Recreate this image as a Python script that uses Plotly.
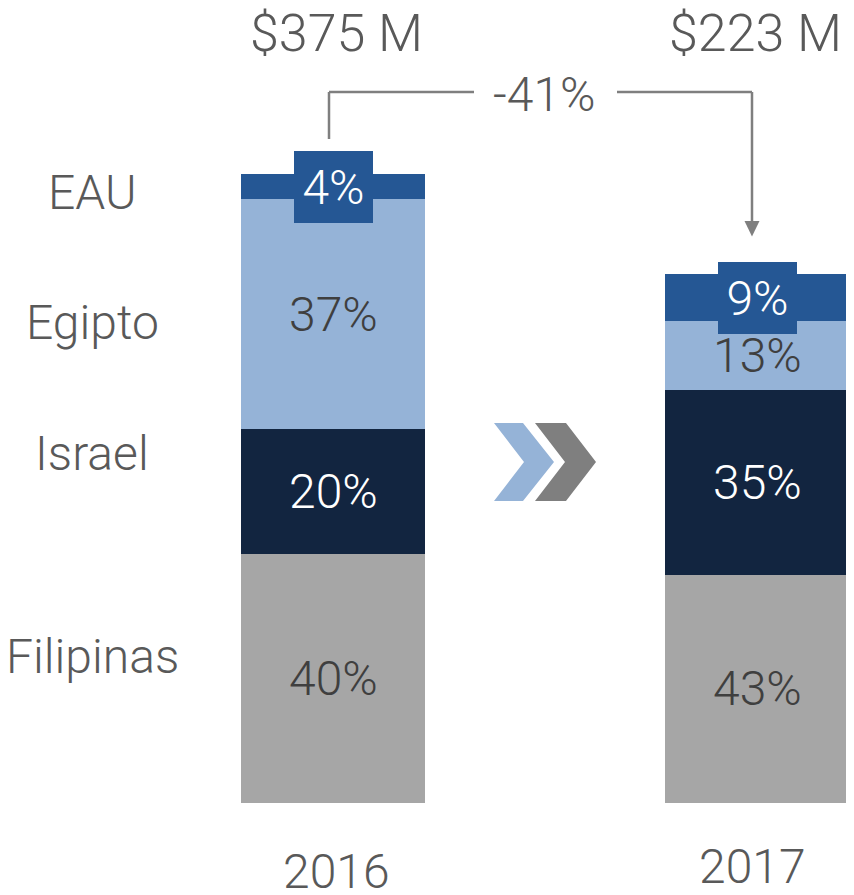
import plotly.graph_objects as go

# ---- data ----
years = ["2016", "2017"]
countries = ["Filipinas", "Israel", "Egipto", "EAU"]
share_2016 = [40, 20, 37, 4]
share_2017 = [43, 35, 13, 9]
totals = ["$375 M", "$223 M"]
change_label = "-41%"

colors = {"Filipinas": "#A6A6A6", "Israel": "#122540", "Egipto": "#95B3D7", "EAU": "#255794"}
text_colors = {"Filipinas": "#3F3F3F", "Israel": "#FFFFFF", "Egipto": "#3F3F3F", "EAU": "#FFFFFF"}
bar_height_scale = [1.0, 0.85]   # visual height of each column

OFF = 8                      # default page margin of the html body
W, H = 854 - OFF, 895 - OFF
FONT = "Roboto"
GRAY = "#595959"
LINE = "#7F7F7F"


def px(x):
    return (x - OFF) / W


def py(y):
    return 1 - (y - OFF) / H


UNIT = 6.22                  # pixels per percentage point
BASE = 92.5                  # bar baseline, pixels above figure bottom

fig = go.Figure()
shares = {c: [share_2016[i], share_2017[i]] for i, c in enumerate(countries)}
for c in countries:
    fig.add_trace(go.Bar(
        x=years,
        y=[shares[c][j] * bar_height_scale[j] for j in range(2)],
        name=c,
        marker=dict(color=colors[c], line=dict(width=0)),
        width=0.434,
        hoverinfo="skip",
    ))

annotations = []
# segment labels
for j, yr in enumerate(years):
    cum = 0
    for c in countries:
        h = shares[c][j] * bar_height_scale[j]
        mid = cum + h / 2
        cum += h
        a = dict(x=j, y=mid, xref="x", yref="y", text=f"{shares[c][j]}%", showarrow=False,
                 font=dict(family=FONT, size=48, color=text_colors[c], weight=300),
                 xanchor="center", yanchor="middle")
        if c == "EAU":
            a.update(bgcolor=colors[c], width=79, height=72, borderwidth=0, borderpad=0)
        annotations.append(a)

# totals above the bars
total_x_shift = [3, -2]
for j, yr in enumerate(years):
    annotations.append(dict(x=j, y=py(33), xref="x", yref="paper", text=totals[j], showarrow=False,
                            xshift=total_x_shift[j],
                            font=dict(family=FONT, size=52, color=GRAY, weight=300),
                            xanchor="center", yanchor="middle"))
# year labels
year_y = [871, 866]
year_x_shift = [3, -5]
for j, yr in enumerate(years):
    annotations.append(dict(x=j, y=py(year_y[j]), xref="x", yref="paper", text=yr, showarrow=False,
                            xshift=year_x_shift[j],
                            font=dict(family=FONT, size=48, color=GRAY, weight=300),
                            xanchor="center", yanchor="middle"))

# country labels on the left
left_pos = {"EAU": 192, "Egipto": 323, "Israel": 453, "Filipinas": 656}
for c in countries:
    annotations.append(dict(x=px(92), y=py(left_pos[c]), xref="paper", yref="paper", text=c,
                            showarrow=False, font=dict(family=FONT, size=48, color=GRAY, weight=300),
                            xanchor="center", yanchor="middle"))

# change label
annotations.append(dict(x=px(544), y=py(94), xref="paper", yref="paper", text=change_label,
                        showarrow=False, font=dict(family=FONT, size=48, color=GRAY, weight=300),
                        xanchor="center", yanchor="middle"))

shapes = []


def seg(x0, y0, x1, y1):
    shapes.append(dict(type="line", xref="paper", yref="paper", x0=px(x0), y0=py(y0), x1=px(x1), y1=py(y1),
                       line=dict(color=LINE, width=2.5)))


seg(329, 139, 329, 92)
seg(329, 92, 474, 92)
seg(617, 92, 752, 92)
seg(752, 92, 752, 223)


def poly(pts, color):
    d = "M " + " L ".join(f"{px(x):.5f},{py(y):.5f}" for x, y in pts) + " Z"
    shapes.append(dict(type="path", xref="paper", yref="paper", path=d, fillcolor=color,
                       line=dict(width=0)))


poly([(744.5, 221), (759.5, 221), (752, 236.5)], LINE)
# chevrons
poly([(494, 423), (523, 423), (554, 462), (523, 501), (494, 501), (524, 462)], "#95B3D7")
poly([(535, 423), (566, 423), (596, 462), (566, 501), (535, 501), (565, 462)], "#7F7F7F")

c0 = 333 - OFF               # screen x of the first column centre, in figure pixels
step = 424                   # pixels between column centres
fig.update_layout(
    width=W, height=H,
    barmode="stack",
    bargap=0,
    showlegend=False,
    margin=dict(l=0, r=0, t=0, b=0),
    paper_bgcolor="white", plot_bgcolor="white",
    xaxis=dict(type="category", range=[-c0 / step, (W - c0) / step], visible=False, fixedrange=True),
    yaxis=dict(range=[-BASE / UNIT, (H - BASE) / UNIT], visible=False, fixedrange=True),
    annotations=annotations,
    shapes=shapes,
    font=dict(family=FONT),
)

fig.write_html("out.html", config={"displayModeBar": False})
